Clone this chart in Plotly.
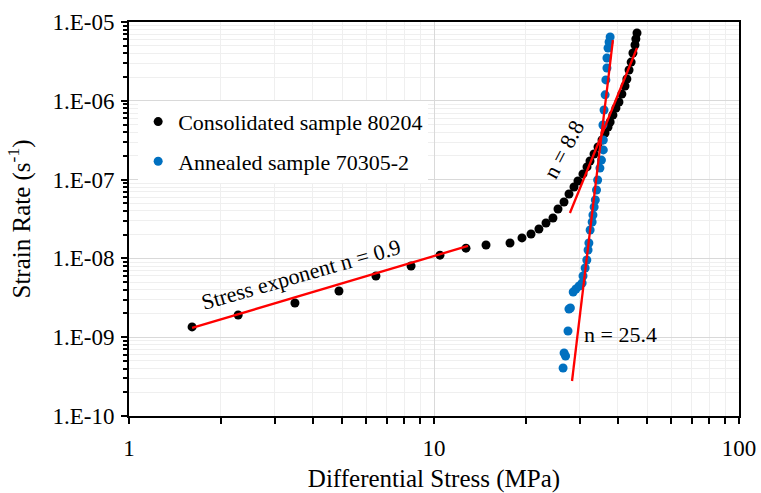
import plotly.graph_objects as go

# ---- data ----
# Consolidated sample 80204 (black)
stress_consol = [1.61, 2.28, 3.50, 4.88, 6.45, 8.41, 10.46, 12.73, 14.81, 17.75,
                 19.43, 20.80, 22.08, 23.29, 24.55, 25.50, 26.68, 27.71, 28.77, 29.65,
                 30.79, 31.74, 32.47, 33.47, 34.50, 35.55, 36.37, 37.2, 37.8, 38.6,
                 39.5, 40.4, 41.3, 42.3, 42.9, 43.6, 44.3, 44.9, 45.6, 45.9, 46.3]
rate_consol = [1.35e-9, 1.91e-9, 2.72e-9, 3.86e-9, 5.98e-9, 8.02e-9, 1.10e-8, 1.35e-8, 1.48e-8, 1.57e-8,
               1.82e-8, 2.04e-8, 2.36e-8, 2.81e-8, 3.26e-8, 4.24e-8, 5.20e-8, 6.57e-8, 8.05e-8, 9.60e-8,
               1.18e-7, 1.45e-7, 1.72e-7, 2.11e-7, 2.59e-7, 3.18e-7, 3.90e-7, 4.65e-7, 5.38e-7, 6.60e-7,
               8.11e-7, 9.66e-7, 1.22e-6, 1.54e-6, 1.89e-6, 2.46e-6, 3.10e-6, 4.04e-6, 5.10e-6, 6.08e-6, 7.25e-6]

# Annealed sample 70305-2 (blue)
stress_anneal = [26.5, 26.7, 27.0, 27.5, 27.7, 28.0, 28.6, 29.2, 29.9, 30.6,
                 30.8, 31.3, 31.7, 32.0, 32.2, 32.5, 33.0, 33.2, 33.5, 33.8,
                 34.1, 34.4, 35.0, 35.4, 35.9, 35.9, 35.8, 36.1, 36.4, 36.6,
                 36.9, 36.9, 37.2, 37.5, 37.8]
rate_anneal = [4.06e-10, 6.3e-10, 5.77e-10, 1.20e-9, 2.28e-9, 2.35e-9, 3.75e-9, 4.09e-9, 4.47e-9, 4.88e-9,
               5.98e-9, 7.55e-9, 9.54e-9, 1.28e-8, 1.57e-8, 2.29e-8, 2.90e-8, 3.56e-8, 4.49e-8, 5.51e-8,
               7.38e-8, 9.89e-8, 1.40e-7, 1.77e-7, 2.38e-7, 3.18e-7, 4.93e-7, 7.64e-7, 1.19e-6, 1.84e-6,
               2.61e-6, 3.49e-6, 4.68e-6, 5.57e-6, 6.45e-6]

# power-law fit lines (end points)
fit_low_x = [1.61, 12.93]
fit_low_y = [1.31e-9, 1.44e-8]
fit_88_x = [27.9, 46.3]
fit_88_y = [3.77e-8, 4.68e-6]
fit_254_x = [28.35, 38.6]
fit_254_y = [2.78e-10, 5.91e-6]

ytick_vals = [1e-10, 1e-9, 1e-8, 1e-7, 1e-6, 1e-5]
ytick_text = ["1.E-10", "1.E-09", "1.E-08", "1.E-07", "1.E-06", "1.E-05"]
xtick_vals = [1, 10, 100]
xtick_text = ["1", "10", "100"]

FONT = "Liberation Serif"
RED = "#FF0000"

fig = go.Figure()

fig.add_trace(go.Scatter(x=stress_consol, y=rate_consol, mode="markers",
                         name="Consolidated sample 80204", legendgroup="a",
                         marker=dict(color="black", size=9)))
fig.add_trace(go.Scatter(x=stress_anneal, y=rate_anneal, mode="markers",
                         name="Annealed sample 70305-2", legendgroup="b",
                         marker=dict(color="#0070C0", size=9)))

# red fit lines drawn over the points
for fx, fy in [(fit_low_x, fit_low_y), (fit_88_x, fit_88_y), (fit_254_x, fit_254_y)]:
    fig.add_trace(go.Scatter(x=fx, y=fy, mode="lines", showlegend=False,
                             line=dict(color=RED, width=2.3)))

ann_font = dict(size=22, family=FONT, color="black")
fig.add_annotation(x=0.564, y=-8.21, xref="x", yref="y", text="Stress exponent n = 0.9",
                   showarrow=False, textangle=-16, font=ann_font)
fig.add_annotation(x=1.425, y=-6.62, xref="x", yref="y", text="n = 8.8",
                   showarrow=False, textangle=-62, font=ann_font)
fig.add_annotation(x=1.613, y=-8.97, xref="x", yref="y", text="n = 25.4",
                   showarrow=False, font=ann_font)

grid_major = "#d9d9d9"
grid_minor = "#efefef"

fig.update_xaxes(type="log", range=[0, 2], tickvals=xtick_vals, ticktext=xtick_text,
                 showline=True, linecolor="black", linewidth=2, mirror=True,
                 ticks="outside", ticklen=6, tickwidth=2, tickcolor="black",
                 showgrid=True, gridcolor=grid_major, gridwidth=1,
                 minor=dict(tickvals=[2, 3, 4, 5, 6, 7, 8, 9, 20, 30, 40, 50, 60, 70, 80, 90],
                            ticks="outside", ticklen=6, tickwidth=2, tickcolor="black",
                            showgrid=True, gridcolor=grid_minor, gridwidth=1),
                 title=dict(text="Differential Stress (MPa)", font=dict(size=25, family=FONT, color="black"),
                            standoff=16),
                 tickfont=dict(size=23, family=FONT, color="black"), zeroline=False,
                 automargin=False, ticklabeloverflow="allow", ticklabelstandoff=4)

yminor = []
for e in range(-10, -5):
    for m in range(2, 10):
        yminor.append(m * 10.0 ** e)

fig.update_yaxes(type="log", range=[-10, -5], tickvals=ytick_vals, ticktext=ytick_text,
                 showline=True, linecolor="black", linewidth=2, mirror=True,
                 ticks="outside", ticklen=6, tickwidth=2, tickcolor="black",
                 showgrid=True, gridcolor=grid_major, gridwidth=1,
                 minor=dict(tickvals=yminor, ticks="outside", ticklen=4, tickwidth=1.5, tickcolor="black",
                            showgrid=True, gridcolor=grid_minor, gridwidth=1),
                 title=dict(text="Strain Rate (s<sup>-1</sup>)", font=dict(size=25, family=FONT, color="black"),
                            standoff=15),
                 tickfont=dict(size=23, family=FONT, color="black"), zeroline=False,
                 automargin=False, ticklabeloverflow="allow", ticklabelstandoff=2)

fig.update_layout(
    width=761, height=493,
    margin=dict(l=129, r=22, t=22, b=77),
    plot_bgcolor="white", paper_bgcolor="white",
    font=dict(family=FONT, color="black"),
    legend=dict(x=0.015, y=0.80, xanchor="left", yanchor="top",
                bgcolor="white", borderwidth=0, itemwidth=30,
                traceorder="grouped", tracegroupgap=8,
                font=dict(size=22, family=FONT, color="black")),
    showlegend=True,
)

# drop the default 8px page margin so the figure fills the window exactly
fig.write_html("out.html", config={"displayModeBar": False},
               post_script="document.body.style.margin = '0px';")
